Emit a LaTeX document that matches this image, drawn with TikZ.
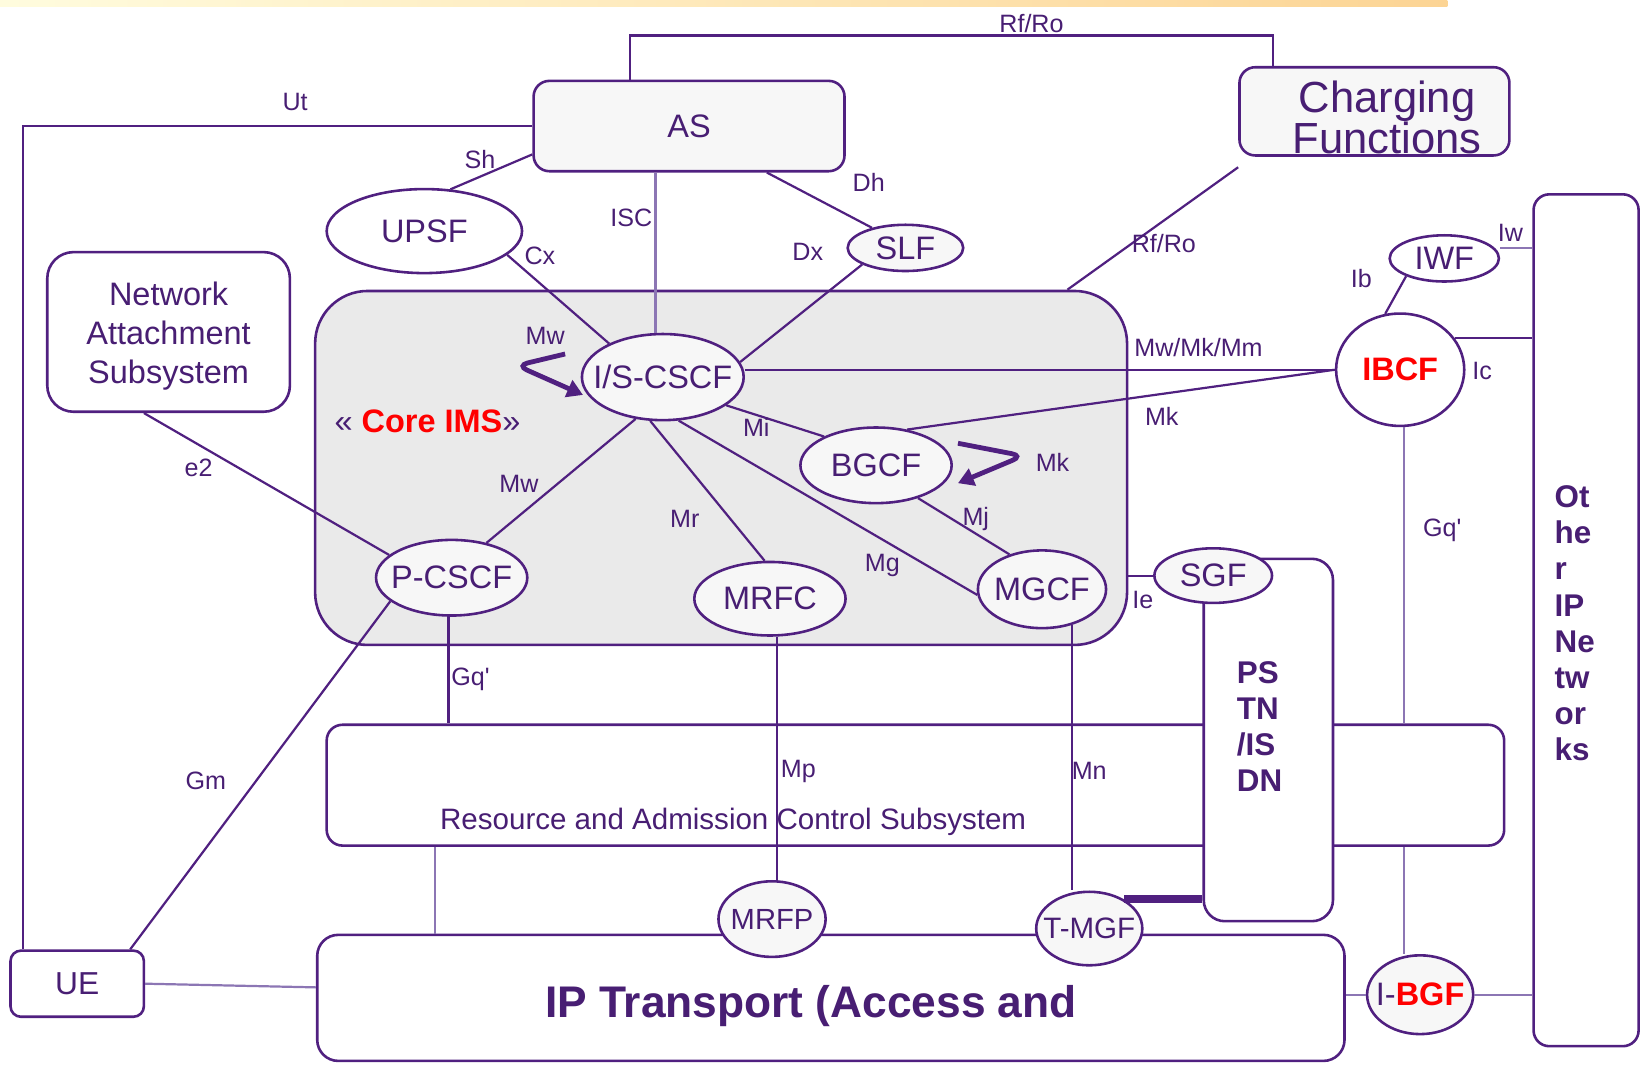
\documentclass[tikz,border=0pt]{standalone}
\usepackage{fontspec}
\setmainfont{Liberation Sans}
\usepackage{xcolor}
\usetikzlibrary{arrows.meta}
\usetikzlibrary{shapes}
\definecolor{ims}{RGB}{80,32,128}
\definecolor{imsl}{RGB}{140,118,180}
\definecolor{imstxt}{RGB}{72,30,115}
\definecolor{corefill}{RGB}{234,234,234}
\definecolor{fnfill}{RGB}{247,247,247}
\definecolor{barl}{RGB}{255,252,222}
\definecolor{barr}{RGB}{252,212,148}
\newcommand{\fnlab}[1]{\makebox[0pt]{#1}}
\tikzset{%
	ln/.style={line width=0.6,draw=ims},
	lnl/.style={line width=0.6,draw=imsl},
	fn/.style={ellipse,draw=ims,line width=0.7,fill=fnfill,inner sep=0,text=imstxt,font=\fontsize{8.8}{10}\selectfont},
	blk/.style={rectangle,draw=ims,line width=0.7,fill=white,inner sep=0,text=imstxt},
	lbl/.style={inner sep=0,text=imstxt,font=\fontsize{6.8}{8}\selectfont},
	loopar/.style={arrows={-Triangle[length=0.15cm,width=0.17cm]},line width=1.3,color=ims,rounded corners=3},
	vtxt/.style={align=left,text width=0.6cm,font=\fontsize{8.5}{9.8}\selectfont\bfseries,text=imstxt},
}

\begin{document}
\begin{tikzpicture}
	\draw[draw=none] (0,0) rectangle (15.68,-10.13);
	\shade[left color=barl,right color=barr] (0,0) rectangle (13.78,-0.06);
	
	% boxes
	\node (core) at (6.865,-4.455) [blk,fill=corefill,rounded corners=0.5cm,minimum width=7.73cm,minimum height=3.37cm,label={[text=imstxt,font=\fontsize{8.8}{10}\selectfont,xshift=-2.795cm,yshift=0.445cm]center:«\ {\color{red}\bfseries Core IMS}»}] {};
	\node (as) at (6.56,-1.20) [blk,fill=fnfill,rounded corners=0.15cm,minimum width=2.96cm,minimum height=0.86cm,font=\fontsize{8.8}{10}\selectfont] {AS};
	\node (chg) at (13.085,-1.06) [blk,fill=fnfill,rounded corners=0.15cm,minimum width=2.57cm,minimum height=0.84cm,label={[text=imstxt,align=center,font=\fontsize{11.8}{11}\selectfont,xshift=0.12cm,yshift=-0.06cm]center:Charging\\Functions}] {};
	\node (nas) at (1.605,-3.16) [blk,rounded corners=0.25cm,minimum width=2.31cm,minimum height=1.52cm,label={[text=imstxt,align=center,font=\fontsize{8.8}{10.5}\selectfont,yshift=-0.04cm]center:Network\\Attachment\\Subsystem}] {};
	\node (racs) at (8.715,-7.475) [blk,rounded corners=0.15cm,minimum width=11.21cm,minimum height=1.15cm,label={[text=imstxt,font=\fontsize{8}{9}\selectfont,xshift=-1.735cm,yshift=-0.345cm]center:Resource and Admission Control Subsystem}] {};
	\node (iptr) at (7.91,-9.50) [blk,rounded corners=0.2cm,minimum width=9.78cm,minimum height=1.2cm,label={[text=imstxt,font=\fontsize{12}{14}\selectfont\bfseries,xshift=-0.19cm,yshift=-0.08cm]center:IP Transport (Access and}] {};
	\node (ue) at (0.735,-9.365) [blk,rounded corners=0.1cm,minimum width=1.27cm,minimum height=0.63cm,font=\fontsize{8.6}{10}\selectfont] {UE};
	\node (pstn) at (12.075,-7.045) [blk,rounded corners=0.2cm,minimum width=1.23cm,minimum height=3.45cm,label={[vtxt,yshift=0.13cm]center:PS\\TN\\/IS\\DN}] {};
	\node (other) at (15.10,-5.905) [blk,rounded corners=0.15cm,minimum width=1.0cm,minimum height=8.11cm,label={[vtxt,yshift=-0.03cm]center:Ot\\he\\r\\IP\\Ne\\tw\\or\\ks}] {};
	
	% functions
	\node (upsf) at (4.04,-2.20) [fn,fill=white,minimum width=1.86cm,minimum height=0.80cm] {\fnlab{UPSF}};
	\node (slf) at (8.62,-2.36) [fn,minimum width=1.10cm,minimum height=0.44cm] {\fnlab{SLF}};
	\node (iscscf) at (6.31,-3.59) [fn,minimum width=1.54cm,minimum height=0.82cm] {\fnlab{I/S-CSCF}};
	\node (iwf) at (13.75,-2.46) [fn,fill=white,minimum width=1.04cm,minimum height=0.44cm] {\fnlab{IWF}};
	\node (ibcf) at (13.33,-3.52) [fn,fill=white,minimum width=1.22cm,minimum height=1.07cm,text=red,font=\fontsize{8.8}{10}\selectfont\bfseries] {\fnlab{IBCF}};
	\node (bgcf) at (8.34,-4.43) [fn,minimum width=1.44cm,minimum height=0.72cm] {\fnlab{BGCF}};
	\node (pcscf) at (4.30,-5.50) [fn,minimum width=1.44cm,minimum height=0.72cm] {\fnlab{P-CSCF}};
	\node (mrfc) at (7.33,-5.70) [fn,minimum width=1.44cm,minimum height=0.70cm] {\fnlab{MRFC}};
	\node (mgcf) at (9.92,-5.61) [fn,minimum width=1.22cm,minimum height=0.74cm] {\fnlab{MGCF}};
	\node (sgf) at (11.55,-5.48) [fn,minimum width=1.12cm,minimum height=0.52cm] {\fnlab{SGF}};
	\node (mrfp) at (7.35,-8.75) [fn,minimum width=1.02cm,minimum height=0.72cm,font=\fontsize{7.9}{9}\selectfont] {\fnlab{MRFP}};
	\node (tmgf) at (10.37,-8.84) [fn,minimum width=1.01cm,minimum height=0.70cm,font=\fontsize{8}{9}\selectfont] {\fnlab{T-MGF}};
	\node (ibgf) at (13.52,-9.47) [fn,minimum width=1.01cm,minimum height=0.75cm] {\fnlab{I-{\color{red}\bfseries BGF}}};
	
	% interfaces
	\draw[ln] ([xshift=-0.56cm]as.north) -- ++(0,0.42) -| ([xshift=-0.965cm]chg.north);
	\draw[ln] (as.west) -| ([xshift=-0.515cm]ue.north);
	\draw[ln] ([yshift=-0.27cm]as.west) -- (upsf.58);
	\draw[ln] (upsf.-16) -- (iscscf.148);
	\draw[lnl] ([xshift=-0.32cm]as.south) -- ([xshift=-0.32cm]as.south |- iscscf.north);
	\draw[ln] ([xshift=0.74cm]as.south) -- (slf.149);
	\draw[ln] (slf.-159) -- (iscscf.11);
	\draw[ln] ([yshift=-0.1cm]chg.south west) -- ([xshift=-0.58cm]core.north east);
	\draw[ln] ([xshift=-0.235cm]nas.south) -- (pcscf.160);
	\draw[ln] (ibcf.west) -- (ibcf.west -| iscscf.east);
	\draw[ln] (bgcf.49) -- (ibcf.west);
	\draw[ln] (iscscf.-24) -- (bgcf.151);
	\draw[ln] (bgcf.-38) -- (mgcf.133);
	\draw[ln] (iscscf.-70) -- (mgcf.185);
	\draw[ln] (iscscf.-106) -- (mrfc.98);
	\draw[ln] (iscscf.-123) -- (pcscf.45);
	\draw[ln] (ibcf.105) -- (iwf.-155);
	\draw[lnl] ([yshift=0.1cm]iwf.east) -- ([yshift=0.1cm]iwf.east -| other.west);
	\draw[ln] (ibcf.30) -- (ibcf.30 -| other.west);
	\draw[lnl] ([xshift=0.04cm]ibcf.south) -- ([xshift=0.04cm]ibcf.south |- racs.north);
	\draw[lnl] ([xshift=0.04cm]ibcf.south |- racs.south) -- ([xshift=0.04cm]ibcf.south |- ibgf.north);
	\draw[ln] (sgf.west) -- (sgf.west -| core.east);
	\draw[ln] ([xshift=-0.03cm]pcscf.south) -- ([xshift=-0.03cm]pcscf.south |- racs.north);
	\draw[ln] (pcscf.201) -- ([xshift=0.505cm]ue.north);
	\draw[ln] ([xshift=0.07cm]mrfc.south) -- ([xshift=0.07cm]mrfc.south |- mrfp.north);
	\draw[ln] (mgcf.-50) -- (mgcf.-50 |- tmgf.north);
	\draw[line width=2.2,draw=ims] (tmgf.40) -- (tmgf.40 -| pstn.west);
	\draw[lnl] ([xshift=1.04cm]racs.south west) -- ([xshift=1.04cm]racs.south west |- iptr.north);
	\draw[lnl] (ue.east) -- ([yshift=0.1cm]iptr.west);
	\draw[lnl] (ibgf.west) -- (ibgf.west -| iptr.east);
	\draw[lnl] (ibgf.east) -- (ibgf.east -| other.west);
	
	% self loops
	\coordinate (mw1) at (5.38,-3.37);
	\coordinate (mw2) at (5.55,-3.76);
	\coordinate (mk1) at (9.12,-4.22);
	\coordinate (mk2) at (9.12,-4.60);
	\draw[loopar] (mw1) -- (4.92,-3.48) -- (mw2);
	\draw[loopar] (mk1) -- (9.74,-4.34) -- (mk2);
	
	% labels
	\node (lrf) at (9.82,-0.22) [lbl] {Rf/Ro};
	\node (lut) at (2.81,-0.97) [lbl] {Ut};
	\node (lsh) at (4.57,-1.52) [lbl] {Sh};
	\node (lisc) at (6.01,-2.07) [lbl] {ISC};
	\node (lcx) at (5.14,-2.44) [lbl] {Cx};
	\node (ldh) at (8.27,-1.74) [lbl] {Dh};
	\node (ldx) at (7.69,-2.40) [lbl] {Dx};
	\node (lrf2) at (11.08,-2.32) [lbl] {Rf/Ro};
	\node (lmw) at (5.19,-3.20) [lbl] {Mw};
	\node (lmwm) at (11.41,-3.31) [lbl] {Mw/Mk/Mm};
	\node (lib) at (12.96,-2.65) [lbl] {Ib};
	\node (liw) at (14.38,-2.22) [lbl] {Iw};
	\node (lic) at (14.11,-3.53) [lbl] {Ic};
	\node (lmk) at (11.06,-3.96) [lbl] {Mk};
	\node (lmi) at (7.20,-4.07) [lbl] {Mi};
	\node (lmk2) at (10.02,-4.40) [lbl] {Mk};
	\node (le2) at (1.89,-4.45) [lbl] {e2};
	\node (lmw2) at (4.94,-4.61) [lbl] {Mw};
	\node (lmr) at (6.52,-4.94) [lbl] {Mr};
	\node (lmj) at (9.29,-4.94) [lbl] {Mj};
	\node (lgq) at (13.73,-5.05) [lbl] {Gq\textquotesingle};
	\node (lmg) at (8.40,-5.38) [lbl] {Mg};
	\node (lie) at (10.88,-5.71) [lbl] {Ie};
	\node (lgq2) at (4.48,-6.47) [lbl] {Gq\textquotesingle};
	\node (lmp) at (7.60,-7.34) [lbl] {Mp};
	\node (lmn) at (10.37,-7.34) [lbl] {Mn};
	\node (lgm) at (1.96,-7.43) [lbl] {Gm};
\end{tikzpicture}
\end{document}
